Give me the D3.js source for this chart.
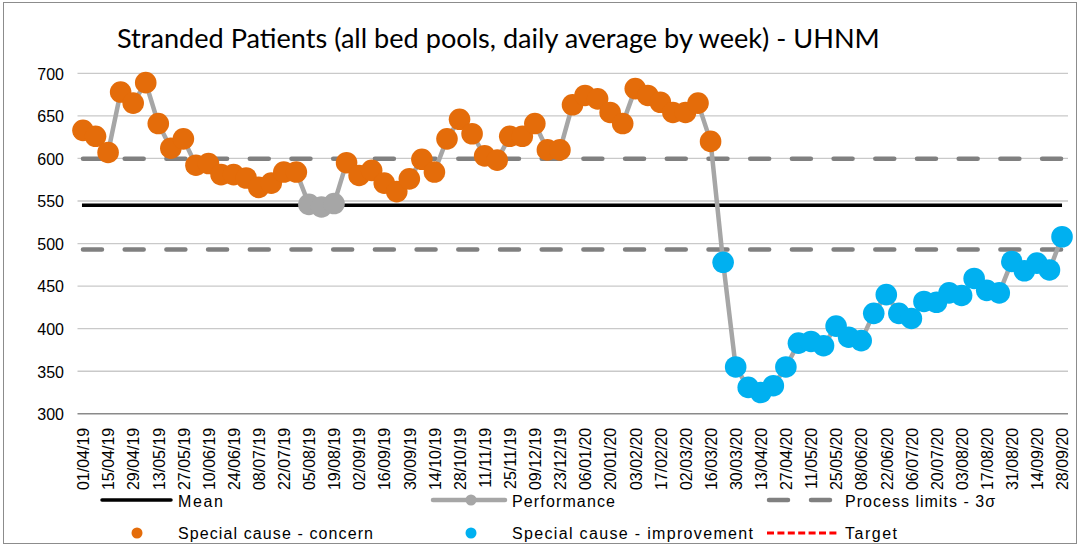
<!DOCTYPE html>
<html>
<head>
<meta charset="utf-8">
<script src="https://cdn.jsdelivr.net/npm/d3@7/dist/d3.min.js"></script>
<style>
  html, body { margin: 0; padding: 0; background: #ffffff; }
  svg { display: block; }
</style>
</head>
<body>
<svg id="chart" width="1079" height="545"></svg>
<script>
// Week-commencing dates (one point per week)
const weeks = [
  "01/04/19","08/04/19","15/04/19","22/04/19","29/04/19","06/05/19","13/05/19","20/05/19",
  "27/05/19","03/06/19","10/06/19","17/06/19","24/06/19","01/07/19","08/07/19","15/07/19",
  "22/07/19","29/07/19","05/08/19","12/08/19","19/08/19","26/08/19","02/09/19","09/09/19",
  "16/09/19","23/09/19","30/09/19","07/10/19","14/10/19","21/10/19","28/10/19","04/11/19",
  "11/11/19","18/11/19","25/11/19","02/12/19","09/12/19","16/12/19","23/12/19","30/12/19",
  "06/01/20","13/01/20","20/01/20","27/01/20","03/02/20","10/02/20","17/02/20","24/02/20",
  "02/03/20","09/03/20","16/03/20","23/03/20","30/03/20","06/04/20","13/04/20","20/04/20",
  "27/04/20","04/05/20","11/05/20","18/05/20","25/05/20","01/06/20","08/06/20","15/06/20",
  "22/06/20","29/06/20","06/07/20","13/07/20","20/07/20","27/07/20","03/08/20","10/08/20",
  "17/08/20","24/08/20","31/08/20","07/09/20","14/09/20","21/09/20","28/09/20"
];

// Stranded patients, daily average by week
const performance = [
  633, 626, 607, 678, 665, 689, 641, 612, 623, 592, 594, 581, 581, 577, 566, 571,
  584, 584, 546, 543, 547, 595, 580, 586, 571, 561, 576, 599, 584, 623, 646, 629,
  603, 598, 626, 626, 641, 610, 610, 663, 674, 670, 654, 641, 682, 674, 666, 654,
  654, 665, 620, 478, 355, 331, 325, 333, 355, 383, 385, 380, 403, 390, 386, 418,
  440, 418, 412, 432, 431, 442, 439, 459, 445, 442, 479, 468, 477, 469, 508
];

// Special-cause flag per week: "C" concern, "I" improvement, "-" common cause
const specialCause = (
  "CCCCCCCCCCCCCCCCCC" + "---" + "CCCCCCCCCCCCCCCCCCCCCCCCCCCCCC" +
  "IIIIIIIIIIIIIIIIIIIIIIIIIIII"
).split("");

const meanValue = 545;
const upperLimit = 599.5;
const lowerLimit = 493;

const yTicks = [300, 350, 400, 450, 500, 550, 600, 650, 700];
const tickLabels = [
  "01/04/19","15/04/19","29/04/19","13/05/19","27/05/19","10/06/19","24/06/19","08/07/19",
  "22/07/19","05/08/19","19/08/19","02/09/19","16/09/19","30/09/19","14/10/19","28/10/19",
  "11/11/19","25/11/19","09/12/19","23/12/19","06/01/20","20/01/20","03/02/20","17/02/20",
  "02/03/20","16/03/20","30/03/20","13/04/20","27/04/20","11/05/20","25/05/20","08/06/20",
  "22/06/20","06/07/20","20/07/20","03/08/20","17/08/20","31/08/20","14/09/20","28/09/20"
];

const colours = { C: "#E46C0A", I: "#00B0F0", "-": "#A6A6A6" };

const svg = d3.select("#chart");
const W = 1079, H = 545;

// chart frame
svg.append("rect")
  .attr("x", 3.5).attr("y", 2.5).attr("width", W - 6).attr("height", H - 4)
  .attr("fill", "#ffffff").attr("stroke", "#8c8c8c").attr("stroke-width", 1);

const x = d3.scalePoint().domain(weeks).range([76.7, 1068.3]).padding(0.5);
const y = d3.scaleLinear().domain([300, 700]).range([413.8, 73.3]);

const plotLeft = 77.5, plotRight = 1068;
const xFirst = x(weeks[0]), xLast = x(weeks[weeks.length - 1]);

// horizontal gridlines
svg.append("g").selectAll("line")
  .data(yTicks.filter(t => t !== 300))
  .join("line")
  .attr("x1", plotLeft).attr("x2", plotRight)
  .attr("y1", d => y(d)).attr("y2", d => y(d))
  .attr("stroke", "#c9c9c9").attr("stroke-width", 1.3);

// y axis labels
const yAxis = d3.axisLeft(y).tickValues(yTicks).tickSize(0).tickPadding(0);
svg.append("g")
  .attr("transform", `translate(64,0)`)
  .call(yAxis)
  .call(g => g.select(".domain").remove())
  .call(g => g.selectAll("text")
    .attr("font-family", "'Liberation Sans', Arial, sans-serif")
    .attr("font-size", 16).attr("fill", "#000").attr("dy", "0.36em"));

// x axis line and rotated labels
const xAxis = d3.axisBottom(x).tickValues(tickLabels).tickSize(0).tickPadding(0);
svg.append("g")
  .attr("transform", `translate(0,${y(300)})`)
  .call(xAxis)
  .call(g => g.select(".domain")
    .attr("d", `M${plotLeft},0H${plotRight}`)
    .attr("stroke", "#8a8a8a").attr("stroke-width", 1.5))
  .call(g => g.selectAll("text")
    .attr("font-family", "'Liberation Sans', Arial, sans-serif")
    .attr("font-size", 16).attr("fill", "#000")
    .attr("text-anchor", "end")
    .attr("transform", "rotate(-90)")
    .attr("x", -14).attr("y", 0).attr("dy", "0.36em"));

// process limits (3 sigma)
svg.append("g").selectAll("line")
  .data([upperLimit, lowerLimit])
  .join("line")
  .attr("x1", xFirst).attr("x2", xLast)
  .attr("y1", d => y(d)).attr("y2", d => y(d))
  .attr("stroke", "#808080").attr("stroke-width", 4.5)
  .attr("stroke-linecap", "round")
  .attr("stroke-dasharray", "19 22.7");

// mean
svg.append("line")
  .attr("x1", xFirst - 1).attr("x2", xLast)
  .attr("y1", y(meanValue)).attr("y2", y(meanValue))
  .attr("stroke", "#000").attr("stroke-width", 3.5);

// performance line
const line = d3.line().x((d, i) => x(weeks[i])).y(d => y(d));
svg.append("path")
  .datum(performance)
  .attr("d", line)
  .attr("fill", "none").attr("stroke", "#A6A6A6").attr("stroke-width", 4.5)
  .attr("stroke-linejoin", "round");

// markers: common cause first, then special-cause points on top
const pts = performance.map((v, i) => ({ v, i, s: specialCause[i] }));
svg.append("g").selectAll("circle")
  .data(pts.filter(d => d.s === "-").concat(pts.filter(d => d.s !== "-")))
  .join("circle")
  .attr("cx", d => x(weeks[d.i])).attr("cy", d => y(d.v))
  .attr("r", 10.8)
  .attr("fill", d => colours[d.s]);

// title
const title = svg.append("text")
  .attr("x", 117).attr("y", 48)
  .attr("font-family", "Lato, 'Open Sans', sans-serif")
  .attr("font-size", 26).attr("fill", "#000")
  .text("Stranded Patients (all bed pools, daily average by week) - UHNM");
const tw = title.node().getComputedTextLength();
title.attr("font-size", Math.max(22, Math.min(30, 26 * 763 / tw)));

// legend
const lg = svg.append("g")
  .attr("font-family", "'Liberation Sans', Arial, sans-serif")
  .attr("font-size", 16).attr("fill", "#000");

function legendText(tx, ty, str, len) {
  lg.append("text").attr("x", tx).attr("y", ty)
    .attr("textLength", len).attr("lengthAdjust", "spacing")
    .text(str);
}

const r1 = 500, r2 = 533;
// Mean
lg.append("line").attr("x1", 102).attr("x2", 171).attr("y1", r1).attr("y2", r1)
  .attr("stroke", "#000").attr("stroke-width", 3.5).attr("stroke-linecap", "round");
legendText(178, r1 + 7, "Mean", 45);
// Performance
lg.append("line").attr("x1", 433).attr("x2", 505).attr("y1", r1).attr("y2", r1)
  .attr("stroke", "#A6A6A6").attr("stroke-width", 4.5).attr("stroke-linecap", "round");
lg.append("circle").attr("cx", 471).attr("cy", r1).attr("r", 5.5).attr("fill", "#A6A6A6");
legendText(512, r1 + 7, "Performance", 103);
// Process limits
[767, 809].forEach(x0 => lg.append("line")
  .attr("x1", x0 + 2).attr("x2", x0 + 21).attr("y1", r1).attr("y2", r1)
  .attr("stroke", "#808080").attr("stroke-width", 4.5).attr("stroke-linecap", "round"));
legendText(845, r1 + 7, "Process limits - 3\u03c3", 150);
// Special cause - concern
lg.append("circle").attr("cx", 137).attr("cy", r2).attr("r", 5.5).attr("fill", colours.C);
legendText(178, r2 + 6, "Special cause - concern", 195);
// Special cause - improvement
lg.append("circle").attr("cx", 471).attr("cy", r2).attr("r", 5.5).attr("fill", colours.I);
legendText(512, r2 + 6, "Special cause  - improvement", 241);
// Target
lg.append("line").attr("x1", 767).attr("x2", 838).attr("y1", r2).attr("y2", r2)
  .attr("stroke", "#FF0000").attr("stroke-width", 3)
  .attr("stroke-dasharray", "7 3.4");
legendText(845, r2 + 6, "Target", 52);
</script>
</body>
</html>
